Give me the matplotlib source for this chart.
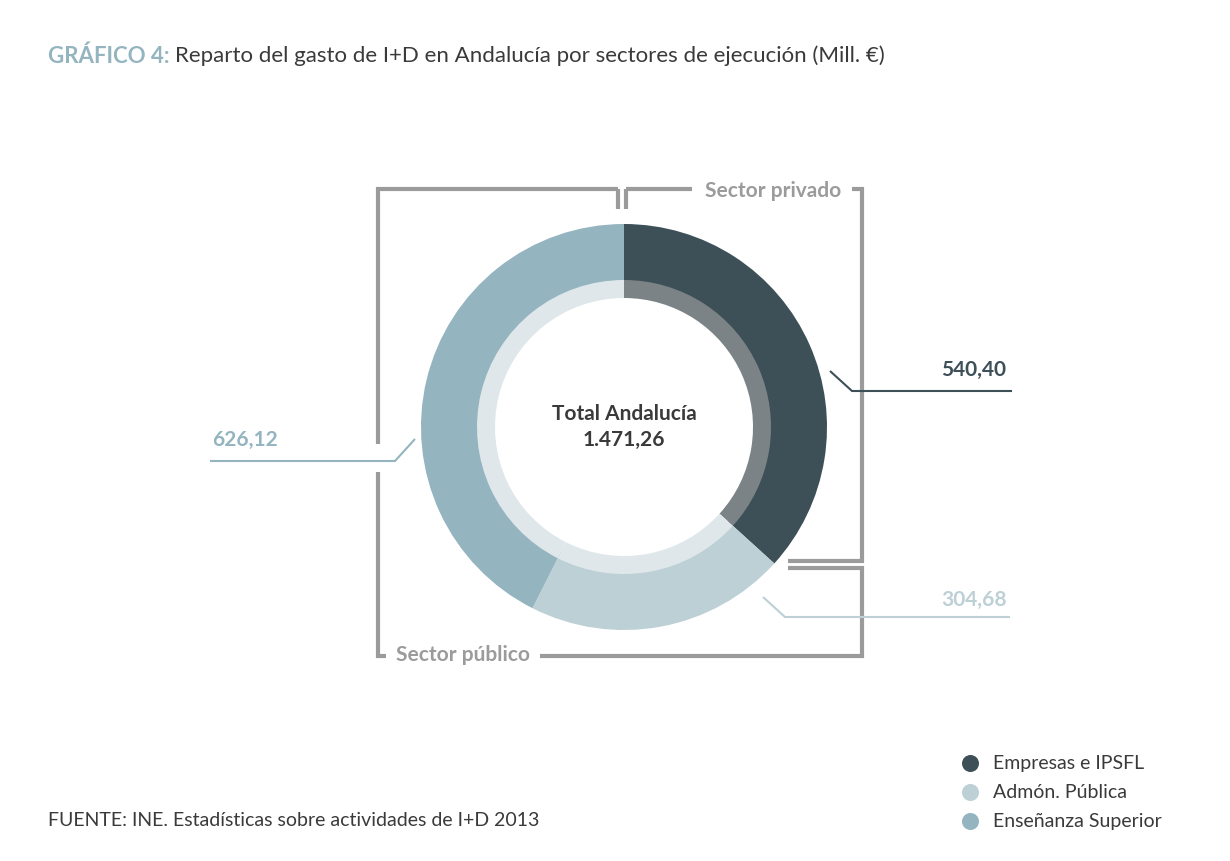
import matplotlib.pyplot as plt

# data
sectors = ['Empresas e IPSFL', 'Admón. Pública', 'Enseñanza Superior']
values = [540.40, 304.68, 626.12]
value_labels = ['540,40', '304,68', '626,12']
total_label = '1.471,26'
colors = ['#3d4f57', '#bcd0d6', '#94b4c0']
inner_colors = ['#7b8387', '#dfe7ea', '#dfe7ea']

W, H = 1230, 862
plt.rcParams['font.family'] = 'Lato'
fig = plt.figure(figsize=(W / 100, H / 100), dpi=100)
ax = fig.add_axes([0, 0, 1, 1])

def Y(py):
    return H - py

cx, cy = 624, Y(428)
ax.pie(values, colors=colors, startangle=90, counterclock=False, center=(cx, cy),
       radius=203, wedgeprops=dict(width=63, linewidth=0))
ax.pie(values, colors=inner_colors, startangle=90, counterclock=False, center=(cx, cy),
       radius=147, wedgeprops=dict(width=18, linewidth=0))
ax.set_xlim(0, W)
ax.set_ylim(0, H)
ax.set_aspect('equal')
ax.axis('off')

# brackets
gc = '#9b9b9b'
lw = 3
def line(xs, ys, c=gc, w=lw):
    ax.plot(xs, [Y(v) for v in ys], color=c, lw=w, solid_joinstyle='miter', solid_capstyle='butt')

line([618, 618], [190, 210])
line([626, 626], [190, 210])
line([626, 692], [190, 190])
line([852, 862, 862, 788], [190, 190, 562, 562])
line([618, 378, 378], [190, 190, 445])
line([378, 378, 386], [473, 657, 657])
line([540, 862, 862, 788], [657, 657, 569, 569])
ax.text(773, Y(191), 'Sector privado', ha='center', va='center', fontsize=15, fontweight='bold', color=gc)
ax.text(463, Y(655), 'Sector público', ha='center', va='center', fontsize=15, fontweight='bold', color=gc)

# value callouts
line([830, 852, 1012], [372, 392, 392], c=colors[0], w=1.5)
ax.text(1006, Y(370), value_labels[0], ha='right', va='center', fontsize=15, fontweight='bold', color=colors[0])
line([763, 785, 1010], [598, 618, 618], c=colors[1], w=1.5)
ax.text(1007, Y(600), value_labels[1], ha='right', va='center', fontsize=15, fontweight='bold', color=colors[1])
line([415, 395, 210], [440, 462, 462], c=colors[2], w=1.5)
ax.text(212, Y(440), value_labels[2], ha='left', va='center', fontsize=15, fontweight='bold', color=colors[2])

# center
ax.text(cx, Y(414), 'Total Andalucía', ha='center', va='center', fontsize=15, fontweight='bold', color='#3a3a3a')
ax.text(cx, Y(440), total_label, ha='center', va='center', fontsize=15, fontweight='bold', color='#3a3a3a')

# title
t = ax.text(48, Y(56), 'GRÁFICO 4: ', ha='left', va='center', fontsize=16, color='#94b4c0', fontweight='bold')
fig.canvas.draw()
bb = t.get_window_extent()
ax.annotate('Reparto del gasto de I+D en Andalucía por sectores de ejecución (Mill. €)',
            xy=(1, 0.5), xycoords=t, ha='left', va='center', fontsize=16, color='#3a3a3a')

# legend
for i, (s, c) in enumerate(zip(sectors, colors)):
    yy = Y(764 + i * 29)
    ax.scatter([970], [yy], s=150, color=c, linewidths=0)
    ax.text(993, yy, s, ha='left', va='center', fontsize=14, color='#3a3a3a')

ax.text(48, Y(821), 'FUENTE: INE. Estadísticas sobre actividades de I+D 2013',
        ha='left', va='center', fontsize=14, color='#3a3a3a')

fig.savefig('out.png', dpi=100)
